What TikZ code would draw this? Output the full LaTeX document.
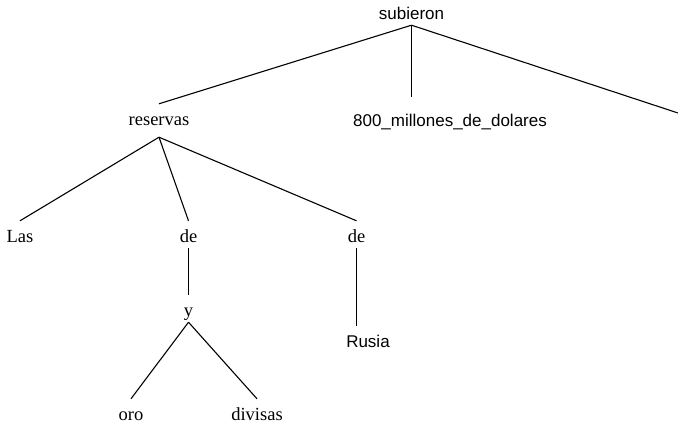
\documentclass[tikz,border=0pt]{standalone}
\usepackage{fontspec}
\setmainfont{Liberation Serif}
\newfontfamily\treesans{Liberation Sans}
\begin{document}
\begin{tikzpicture}[x=1pt,y=-1pt,
  word/.style={anchor=base, inner xsep=1pt, inner ysep=2pt,
    text height=20pt, text depth=3pt},
  serifword/.style={word, font=\fontsize{18.5}{20}\selectfont},
  sansword/.style={word, font=\treesans\fontsize{17}{20}\selectfont},
  branch/.style={draw=black, line width=1.1pt}]
  \useasboundingbox (0,0) rectangle (678,427);

  % words of the dependency tree
  \node[sansword]  (subieron) at (411.5,20)  {subieron};
  \node[serifword, text depth=9pt] (reservas) at (159,126) {reservas};
  \node[sansword]  (millones) at (450,127) {800\_millones\_de\_dolares};
  \node[serifword] (las)      at (20,243)  {Las};
  \node[serifword] (de1)      at (188.5,243) {de};
  \node[serifword] (y)        at (188.5,317) {y};
  \node[serifword] (de2)      at (356.5,243) {de};
  \node[sansword]  (rusia)    at (368,348) {Rusia};
  \node[serifword] (oro)      at (131,421) {oro};
  \node[serifword] (divisas)  at (257,421) {divisas};
  \coordinate (offright) at (678,113);

  % branches
  \draw[branch] (subieron.south) -- (reservas.north);
  \draw[branch] (subieron.south) -- ([yshift=8pt]subieron.south |- millones.north);
  \draw[branch] (subieron.south) -- (offright);
  \draw[branch] (reservas.south) -- (las.north);
  \draw[branch] (reservas.south) -- (de1.north);
  \draw[branch] (reservas.south) -- (de2.north);
  \draw[branch] (de1.south) -- (y.north);
  \draw[branch] (de2.south) -- (de2.south |- rusia.north);
  \draw[branch] (y.south) -- (oro.north);
  \draw[branch] (y.south) -- (divisas.north);
\end{tikzpicture}
\end{document}
